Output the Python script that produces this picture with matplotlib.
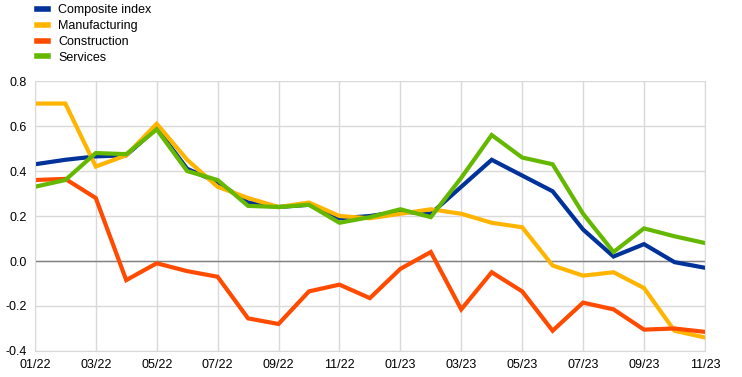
import numpy as np
import matplotlib.pyplot as plt

# monthly data, 01/22 .. 11/23
months = ["01/22", "02/22", "03/22", "04/22", "05/22", "06/22", "07/22", "08/22",
          "09/22", "10/22", "11/22", "12/22", "01/23", "02/23", "03/23", "04/23",
          "05/23", "06/23", "07/23", "08/23", "09/23", "10/23", "11/23"]

composite = [0.43, 0.45, 0.465, 0.47, 0.59, 0.41, 0.35, 0.26, 0.24, 0.25, 0.19, 0.20,
             0.22, 0.21, 0.33, 0.45, 0.38, 0.31, 0.14, 0.02, 0.075, -0.005, -0.03]
manufacturing = [0.70, 0.70, 0.42, 0.47, 0.61, 0.45, 0.33, 0.28, 0.24, 0.26, 0.20, 0.19,
                 0.21, 0.23, 0.21, 0.17, 0.15, -0.02, -0.065, -0.05, -0.12, -0.31, -0.34]
construction = [0.36, 0.365, 0.28, -0.085, -0.01, -0.045, -0.07, -0.255, -0.28, -0.135,
                -0.105, -0.165, -0.035, 0.04, -0.215, -0.05, -0.135, -0.31, -0.185,
                -0.215, -0.305, -0.30, -0.315]
services = [0.33, 0.36, 0.48, 0.475, 0.585, 0.40, 0.36, 0.245, 0.24, 0.25, 0.17, 0.195,
            0.23, 0.195, 0.37, 0.56, 0.46, 0.43, 0.21, 0.04, 0.145, 0.11, 0.08]

series = [
    ("Composite index", composite, "#003299"),
    ("Manufacturing", manufacturing, "#FFB400"),
    ("Construction", construction, "#FF4B00"),
    ("Services", services, "#65B800"),
]

plt.rcParams['font.family'] = ['Liberation Sans', 'DejaVu Sans']

fig = plt.figure(figsize=(7.42, 3.77), dpi=100)
ax = fig.add_axes([0.047, 0.069, 0.903, 0.716])

x = np.arange(len(months))
handles = []
for name, vals, col in series:
    h, = ax.plot(x, vals, color=col, lw=3.0, label=name, solid_joinstyle='miter')
    handles.append(h)

ax.set_xlim(0, len(months) - 1)
ax.set_ylim(-0.4, 0.8)
ax.set_xticks(x[::2])
ax.set_xticklabels(months[::2])
ax.set_yticks(np.arange(-0.4, 0.81, 0.2))
ax.set_yticklabels([f"{v:.1f}" for v in np.arange(-0.4, 0.81, 0.2)])

ax.grid(True, color="#d9d9d9", lw=1)
ax.set_axisbelow(True)
ax.axhline(0, color="#808080", lw=1, zorder=1)
for s in ax.spines.values():
    s.set_color("#d9d9d9")
ax.spines['top'].set_visible(False)
ax.tick_params(length=0, labelsize=9, pad=6)

fig.legend(handles=handles, loc="upper left", bbox_to_anchor=(0.035, 1.018),
           frameon=False, fontsize=9, handlelength=0.9, handletextpad=0.8,
           labelspacing=0.3)
for h in fig.legends[0].legend_handles:
    h.set_linewidth(4)

fig.savefig("out.png", dpi=100)
